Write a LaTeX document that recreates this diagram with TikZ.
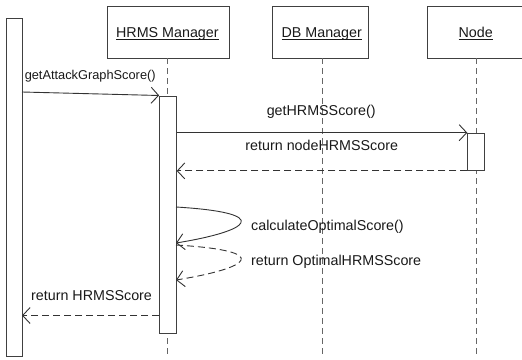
\documentclass[tikz,border=0pt]{standalone}
\usepackage{fontspec}
\setmainfont{Liberation Sans}
\usetikzlibrary{arrows.meta}
% underline set just under the baseline, crossing descenders
\newcommand\headlabel[1]{\setbox0=\hbox{#1}\rlap{\rule[-2.3pt]{\wd0}{0.8pt}}\box0}

\begin{document}
\begin{tikzpicture}[x=1pt,y=-1pt,
  line width=0.9pt,
  ink/.style={draw=black!75},
  headbox/.style={ink, fill=white, inner sep=0pt, anchor=north west, minimum height=51.5pt},
  actbar/.style={ink, fill=white, inner sep=0pt, anchor=north west, minimum width=16.6pt},
  lifeline/.style={draw=black!60, dash pattern=on 6pt off 4pt},
  msg/.style={draw=black!80, -{Straight Barb[length=7.5pt,width=16pt]}},
  reply/.style={msg, dash pattern=on 7pt off 4pt},
  lbl/.style={inner sep=0pt, text=black!90, font=\fontsize{14.3}{17}\selectfont},
]
\useasboundingbox (0,0) rectangle (522,359);

% object heads
\node[headbox, minimum width=122pt] (hrms) at (107,6) {};
\node[headbox, minimum width=96pt]  (db)   at (272,6) {};
\node[headbox, minimum width=94.5pt] (nd)  at (427,6) {};
\node[lbl, anchor=base] (hrmst) at (167.4,37.5) {\headlabel{HRMS Manager}};
\node[lbl, anchor=base] (dbt)   at (321.7,37.5) {\headlabel{DB Manager}};
\node[lbl, anchor=base] (ndt)   at (475.7,37.5) {\headlabel{Node}};

% lifelines
\coordinate (hend) at (167.5,357);
\coordinate (dend) at (322,357);
\coordinate (nend) at (476,357);
\draw[lifeline] (hrms.south -| hend) -- (hend);
\draw[lifeline] (db.south -| dend) -- (dend);
\draw[lifeline] (nd.south -| nend) -- (nend);

% activation bars
\node[actbar, minimum width=16pt, minimum height=337.5pt] (caller) at (6,18) {};
\node[actbar, minimum height=237.5pt] (hbar) at (159.2,95.5) {};
\node[actbar, minimum height=37.3pt]  (nbar) at (467.3,132.7) {};

% message end points
\coordinate (m1a) at (22,92);
\coordinate (s1a) at (176,207);
\coordinate (s1b) at (176,243);
\coordinate (s2a) at (176,245);
\coordinate (s2b) at (176,280);
\coordinate (r1a) at (159.2,315.5);
\coordinate (r1b) at (22,315.5);

% messages
\draw[msg] (m1a) -- (hbar.north west);
\node[lbl, anchor=base west, font=\fontsize{12.8}{15}\selectfont] (l1) at (24.3,79.3) {getAttackGraphScore()};

\draw[msg] (hbar.east |- nbar.north) -- (nbar.north west);
\node[lbl, anchor=base] (l2) at (321.2,115.7) {getHRMSScore()};

\draw[reply] (nbar.south west) -- (hbar.east |- nbar.south);
\node[lbl, anchor=base west] (l3) at (245,150) {return nodeHRMSScore};

\draw[msg] (s1a) .. controls (275,213) and (250,231) .. (s1b);
\node[lbl, anchor=base west] (l4) at (250.7,230) {calculateOptimalScore()};

\draw[reply] (s2a) .. controls (275,251) and (250,268) .. (s2b);
\node[lbl, anchor=base west] (l5) at (250.7,265) {return OptimalHRMSScore};

\draw[reply] (r1a) -- (r1b);
\node[lbl, anchor=base west] (l6) at (30.7,300) {return HRMSScore};
\end{tikzpicture}
\end{document}
